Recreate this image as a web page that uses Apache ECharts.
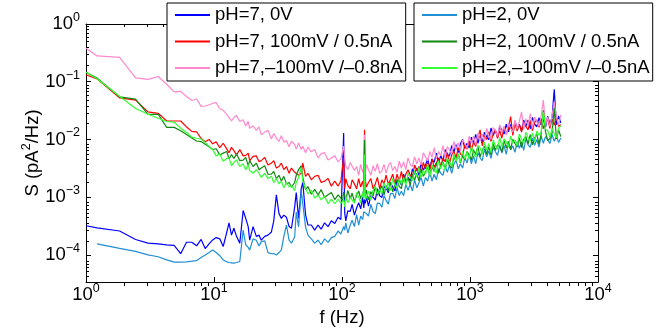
<!DOCTYPE html>
<html><head><meta charset="utf-8">
<script src="https://cdn.jsdelivr.net/npm/echarts@6/dist/echarts.min.js"></script>
<style>html,body{margin:0;padding:0;background:#fff}#c{width:664px;height:332px}</style>
</head><body><div id="c"></div>
<script>
const seriesNames = ['pH=7, 0V', 'pH=7, 100mV / 0.5nA', 'pH=7,\u2013100mV /\u20130.8nA',
                     'pH=2, 0V', 'pH=2, 100mV / 0.5nA', 'pH=2,\u2013100mV /\u20130.5nA'];
const seriesColors = ['#0000ff', '#ff0000', '#ff88cc', '#1f8fd6', '#118811', '#33ff33'];

const xMajor = [1, 10, 100, 1000, 10000];
const xMinor = [2,3,4,5,6,7,8,9,20,30,40,50,60,70,80,90,200,300,400,500,600,700,800,900,2000,3000,4000,5000,6000,7000,8000,9000];
const yMajor = [1e-4, 1e-3, 1e-2, 1e-1, 1];
const yMinor = [4e-5,5e-5,6e-5,7e-5,8e-5,9e-5,2e-4,3e-4,4e-4,5e-4,6e-4,7e-4,8e-4,9e-4,2e-3,3e-3,4e-3,5e-3,6e-3,7e-3,8e-3,9e-3,
                0.02,0.03,0.04,0.05,0.06,0.07,0.08,0.09,0.2,0.3,0.4,0.5,0.6,0.7,0.8,0.9];

const freq = [
 1, 1.22, 1.83, 2.44, 3.05, 3.66, 4.27, 4.88, 5.49, 6.1, 6.71, 7.32, 7.93, 8.54, 9.15, 9.76,
 10.4, 11.1, 11.8, 12.6, 13.1, 13.7, 14.3, 15.0, 15.9, 16.9, 17.7, 18.5, 19.0, 20.2, 21.4, 22.5, 23.4, 24.9, 26.4, 28.1,
 29.3, 30.7, 32.2, 33.6, 35.1, 36.8, 38.6, 40.3, 42.7, 43.9, 45.8, 48.0, 49.4, 51.9, 54.2, 57.6, 61.2, 65.0, 68.8, 73.1,
 77.8, 82.6, 87.8, 93.2, 98,
 101, 103, 105, 107, 111, 116, 120, 125, 130, 135,
 140, 145, 148, 150, 152, 155, 161, 168, 175, 182,
 189, 197, 205, 213, 221, 230, 239, 249, 259, 269,
 280, 291, 303, 315, 328, 341, 355, 369, 384, 399,
 415, 432, 449, 467, 486, 505, 525, 546, 568, 591,
 615, 640, 665, 692, 720, 748, 778, 810, 842, 876,
 911, 947, 985, 1025, 1066, 1108, 1153, 1199, 1247, 1297,
 1349, 1403, 1459, 1517, 1578, 1641, 1707, 1775, 1846, 1920,
 1997, 2077, 2160, 2246, 2336, 2430, 2527, 2628, 2733, 2842,
 2956, 3074, 3197, 3325, 3458, 3597, 3740, 3890, 4046, 4208,
 4376, 4551, 4733, 4923, 5120
];

const pH7_0V = [
 3.2e-4, 2.95e-4, 2.6e-4, 1.85e-4, 1.6e-4, 1.55e-4, 1.5e-4, 1.47e-4, 1.05e-4, 1.66e-4, 1.66e-4, 1.44e-4, 1.86e-4, 1.29e-4, 1.55e-4, 1.82e-4,
 2.0e-4, 1.9e-4, 1.4e-4, 2.5e-4, 3.6e-4, 2.2e-4, 2.9e-4, 2.1e-4, 1.6e-4, 5.9e-4, 4.3e-4, 3.1e-4, 1.8e-4, 3.1e-4, 2.1e-4, 2.2e-4, 1.8e-4, 2.1e-4, 2.2e-4, 2.5e-4,
 3.9e-4, 1.1e-3, 5.2e-4, 4.3e-4, 4.9e-4, 4.5e-4, 3.1e-4, 2.9e-4, 6.8e-4, 1.2e-3, 4.3e-4, 1.4e-3, 1.8e-3, 5.0e-4, 3.3e-4, 3.3e-4, 2.7e-4, 3.3e-4, 2.8e-4, 3.6e-4,
 3.1e-4, 3.9e-4, 3.5e-4, 4.5e-4, 4.1e-4,
 3.8e-4, 0.0129, 5.4e-4, 3.9e-4, 5.8e-4, 5.7e-4, 7.5e-4, 4.9e-4, 6.5e-4, 8.0e-4,
 6.3e-4, 1.0e-3, 6.5e-4, 9.2e-4, 7.8e-4, 1.03e-3, 7.0e-4, 1.06e-3, 1.0e-3, 8.9e-4,
 1.4e-3, 1.06e-3, 9.9e-4, 1.53e-3, 1.45e-3, 1.19e-3, 1.8e-3, 1.5e-3, 1.29e-3, 1.98e-3,
 1.98e-3, 1.62e-3, 2.5e-3, 1.85e-3, 2.2e-3, 1.92e-3, 3.1e-3, 2.5e-3, 3.2e-3, 2.4e-3,
 3.9e-3, 2.9e-3, 3.6e-3, 4.6e-3, 3.2e-3, 4.6e-3, 4.0e-3, 5.8e-3, 3.9e-3, 5.3e-3,
 4.2e-3, 6.7e-3, 5.5e-3, 5.2e-3, 7.8e-3, 6.0e-3, 8.1e-3, 5.9e-3, 8.5e-3, 0.0100,
 7.0e-3, 8.6e-3, 7.1e-3, 0.0110, 8.6e-3, 0.0123, 8.6e-3, 0.0116, 8.7e-3, 0.0133,
 0.0111, 9.9e-3, 0.0158, 0.0117, 0.0146, 0.0110, 0.0169, 0.0145, 0.0124, 0.0185,
 0.0136, 0.0183, 0.0130, 0.0209, 0.0156, 0.0183, 0.0142, 0.0217, 0.0167, 0.0216,
 0.0152, 0.0241, 0.0185, 0.0165, 0.0239, 0.0177, 0.0223, 0.0164, 0.0253, 0.0188,
 0.0243, 0.074, 0.0181, 0.0257, 0.0194
];

const pH7_pos = [
 0.132, 0.112, 0.0526, 0.048, 0.030, 0.0284, 0.0209, 0.0209, 0.0209, 0.0165, 0.0138, 0.0135, 0.0104, 0.0091, 0.010, 0.0084,
 0.0091, 0.0072, 0.0086, 0.0068, 0.0059, 0.0073, 0.0064, 0.0054, 0.0067, 0.0052, 0.0053, 0.0058, 0.0043, 0.0051, 0.0052, 0.0041, 0.0043, 0.0049, 0.0036, 0.0039,
 0.0043, 0.0032, 0.0034, 0.0039, 0.0030, 0.0034, 0.0026, 0.0032, 0.0027, 0.0029, 0.0024, 0.0026, 0.0039, 0.0023, 0.0026, 0.0020, 0.0023, 0.0024, 0.0018, 0.0019,
 0.0021, 0.00155, 0.0019, 0.00156, 0.0019,
 1.9e-3, 4.8e-3, 1.4e-3, 2.1e-3, 1.6e-3, 1.4e-3, 2.0e-3, 1.7e-3, 1.4e-3, 2.1e-3,
 1.5e-3, 1.9e-3, 1.4e-3, 0.0147, 2.0e-3, 1.5e-3, 1.8e-3, 2.1e-3, 1.4e-3, 1.7e-3,
 2.2e-3, 1.4e-3, 2.0e-3, 1.7e-3, 2.4e-3, 1.7e-3, 2.0e-3, 2.5e-3, 1.7e-3, 2.5e-3,
 1.9e-3, 2.8e-3, 1.9e-3, 2.5e-3, 3.0e-3, 2.4e-3, 2.2e-3, 3.6e-3, 2.9e-3, 3.4e-3,
 2.6e-3, 4.0e-3, 3.1e-3, 4.0e-3, 2.9e-3, 4.6e-3, 3.3e-3, 3.9e-3, 4.8e-3, 3.4e-3,
 4.8e-3, 4.1e-3, 5.9e-3, 3.9e-3, 5.4e-3, 6.3e-3, 4.8e-3, 7.2e-3, 5.6e-3, 5.2e-3,
 8.2e-3, 6.8e-3, 9.5e-3, 6.5e-3, 9.0e-3, 7.6e-3, 0.0108, 0.0147, 7.8e-3, 0.0116,
 0.0100, 0.0136, 9.3e-3, 0.0124, 0.0145, 0.0105, 0.0142, 0.0105, 0.0165, 0.0124,
 0.0155, 0.025, 0.0118, 0.0190, 0.0140, 0.0184, 0.0134, 0.0199, 0.0169, 0.0146,
 0.0214, 0.0142, 0.0198, 0.0218, 0.0162, 0.0233, 0.0154, 0.0200, 0.0230, 0.0155,
 0.0225, 0.0177, 0.0242, 0.0169, 0.0180
];

const pH7_neg = [
 0.38, 0.28, 0.264, 0.117, 0.11, 0.123, 0.0906, 0.0667, 0.068, 0.0554, 0.0473, 0.0503, 0.0375, 0.038, 0.040, 0.042,
 0.0438, 0.034, 0.032, 0.027, 0.024, 0.021, 0.024, 0.026, 0.0205, 0.0219, 0.0171, 0.0206, 0.0156, 0.0173, 0.0144, 0.0165, 0.0121, 0.0134, 0.0144, 0.0102,
 0.0127, 0.0105, 0.0093, 0.0116, 0.0090, 0.0096, 0.0075, 0.0094, 0.0081, 0.0068, 0.0087, 0.0067, 0.0076, 0.0059, 0.0074, 0.0061, 0.0067, 0.0048, 0.0057, 0.0059,
 0.0044, 0.0048, 0.0052, 0.0041, 0.0046,
 4.5e-3, 7.7e-3, 4.7e-3, 3.5e-3, 3.0e-3, 4.0e-3, 4.3e-3, 2.9e-3, 3.4e-3, 2.4e-3,
 3.7e-3, 2.7e-3, 3.3e-3, 0.0121, 2.5e-3, 3.7e-3, 3.0e-3, 2.4e-3, 3.5e-3, 2.8e-3,
 3.8e-3, 2.6e-3, 2.9e-3, 3.7e-3, 2.6e-3, 3.5e-3, 4.0e-3, 2.9e-3, 3.4e-3, 2.7e-3,
 4.2e-3, 3.2e-3, 4.1e-3, 3.0e-3, 4.8e-3, 3.7e-3, 3.4e-3, 5.0e-3, 3.8e-3, 4.8e-3,
 3.6e-3, 5.9e-3, 5.0e-3, 4.3e-3, 6.2e-3, 4.9e-3, 7.2e-3, 4.6e-3, 6.2e-3, 5.2e-3,
 7.8e-3, 5.0e-3, 7.5e-3, 6.5e-3, 5.7e-3, 9.3e-3, 6.7e-3, 8.8e-3, 6.2e-3, 9.8e-3,
 8.5e-3, 7.0e-3, 0.0114, 8.6e-3, 0.0114, 8.0e-3, 0.0129, 9.4e-3, 0.0123, 9.4e-3,
 0.0156, 0.0116, 0.0101, 0.0161, 0.0144, 0.0113, 0.0181, 0.0130, 0.0170, 0.0119,
 0.0195, 0.0155, 0.0134, 0.0217, 0.0151, 0.0206, 0.030, 0.0149, 0.0228, 0.0174,
 0.028, 0.0155, 0.0245, 0.0204, 0.0169, 0.0260, 0.048, 0.0180, 0.0246, 0.0168,
 0.0260, 0.045, 0.0242, 0.0177, 0.0266
];

const pH2_0V = [
 null, 1.55e-4, 1.3e-4, 1.15e-4, 1.0e-4, 9.3e-5, 8.2e-5, 7.5e-5, 7.5e-5, 7.6e-5, 7.8e-5, 8.0e-5, 9.0e-5, 1.0e-4, 1.1e-4, 1.22e-4,
 1.1e-4, 9.7e-5, 8.2e-5, 7.6e-5, 7.4e-5, 7.3e-5, 7.2e-5, 7.4e-5, 7.7e-5, 2.7e-4, 1.5e-4, 1.35e-4, 1.22e-4, 1.9e-4, 1.8e-4, 1.43e-4, 1.7e-4, 1.75e-4, 1.1e-4, 1.05e-4,
 1.06e-4, 1.0e-4, 1.1e-4, 1.22e-4, 2.07e-4, 3.3e-4, 1.8e-4, 1.6e-4, 2.07e-4, 5.5e-4, 3.07e-4, 1.3e-3, 1.22e-3, 3.07e-4, 2.2e-4, 1.9e-4, 1.6e-4, 1.8e-4, 1.5e-4, 1.9e-4,
 1.65e-4, 2.0e-4, 2.1e-4, 2.6e-4, 2.3e-4,
 2.2e-4, 3.1e-4, 2.7e-4, 3.6e-4, 2.4e-4, 3.3e-4, 4.0e-4, 3.1e-4, 5.0e-4, 3.3e-4,
 4.7e-4, 4.1e-4, 5.6e-4, 6.0e-4, 5.8e-4, 5.2e-4, 4.7e-4, 7.5e-4, 5.6e-4, 5.2e-4,
 7.9e-4, 7.8e-4, 6.7e-4, 1.07e-3, 8.8e-4, 7.6e-4, 1.15e-3, 1.17e-3, 9.5e-4, 1.46e-3,
 1.07e-3, 1.27e-3, 1.06e-3, 1.66e-3, 1.32e-3, 1.68e-3, 1.28e-3, 2.0e-3, 1.46e-3, 1.78e-3,
 2.2e-3, 1.56e-3, 2.2e-3, 1.9e-3, 2.75e-3, 1.9e-3, 2.5e-3, 2.0e-3, 3.1e-3, 2.6e-3,
 2.4e-3, 3.5e-3, 2.7e-3, 3.6e-3, 2.6e-3, 3.7e-3, 4.4e-3, 3.1e-3, 3.8e-3, 3.2e-3,
 4.9e-3, 3.9e-3, 5.5e-3, 3.8e-3, 5.2e-3, 3.8e-3, 5.9e-3, 4.8e-3, 4.3e-3, 6.8e-3,
 5.0e-3, 6.3e-3, 4.7e-3, 7.3e-3, 6.2e-3, 5.3e-3, 7.9e-3, 5.8e-3, 7.8e-3, 5.5e-3,
 8.9e-3, 6.6e-3, 7.8e-3, 6.0e-3, 9.2e-3, 7.0e-3, 9.2e-3, 6.5e-3, 0.0104, 8.1e-3,
 7.3e-3, 0.0106, 7.9e-3, 0.0100, 7.4e-3, 0.0115, 8.6e-3, 0.0112, 9.9e-3, 8.5e-3,
 0.0122, 9.3e-3, 0.0114, 8.9e-3, 0.0106
];

const pH2_pos = [
 0.1465, 0.1157, 0.0547, 0.0498, 0.0273, 0.0273, 0.0162, 0.0162, 0.0142, 0.0122, 0.0106, 0.0094, 0.0092, 0.0083, 0.0075, 0.0067,
 0.0069, 0.0054, 0.0058, 0.0062, 0.0046, 0.0055, 0.0047, 0.0056, 0.0043, 0.0044, 0.0049, 0.0035, 0.0043, 0.0034, 0.0039, 0.0030, 0.0032, 0.0035, 0.0025, 0.0025,
 0.0028, 0.0021, 0.0024, 0.0019, 0.0023, 0.0017, 0.0018, 0.0015, 0.0018, 0.0024, 0.0030, 0.0035, 0.0022, 0.00135, 0.00153, 0.00113, 0.00137, 0.0011, 0.00135, 0.00099,
 0.0011, 0.00121, 0.00091, 0.0011, 0.00096,
 8.6e-4, 1.23e-3, 1.06e-3, 8.7e-4, 1.31e-3, 9.4e-4, 1.18e-3, 8.4e-4, 1.06e-3, 1.28e-3,
 9.5e-4, 1.14e-3, 1.38e-3, 9.8e-3, 1.05e-3, 1.33e-3, 9.0e-4, 1.25e-3, 1.06e-3, 1.53e-3,
 1.07e-3, 1.3e-3, 1.58e-3, 1.1e-3, 1.59e-3, 1.28e-3, 1.83e-3, 1.24e-3, 1.68e-3, 1.98e-3,
 1.53e-3, 1.41e-3, 2.28e-3, 1.79e-3, 2.15e-3, 1.64e-3, 2.5e-3, 1.98e-3, 2.6e-3, 1.92e-3,
 3.1e-3, 2.3e-3, 2.7e-3, 3.4e-3, 2.3e-3, 3.4e-3, 2.8e-3, 4.0e-3, 2.6e-3, 3.6e-3,
 4.1e-3, 3.1e-3, 4.5e-3, 3.5e-3, 3.2e-3, 5.0e-3, 4.2e-3, 5.6e-3, 3.9e-3, 5.3e-3,
 4.4e-3, 6.2e-3, 5.4e-3, 4.4e-3, 6.6e-3, 5.5e-3, 7.5e-3, 5.0e-3, 6.5e-3, 7.7e-3,
 5.5e-3, 7.5e-3, 5.4e-3, 8.5e-3, 6.5e-3, 8.0e-3, 7.5e-3, 6.1e-3, 9.8e-3, 7.1e-3,
 9.3e-3, 6.7e-3, 0.0101, 8.5e-3, 7.4e-3, 0.0107, 7.2e-3, 0.0100, 0.0112, 8.4e-3,
 0.0121, 8.1e-3, 0.0106, 0.0124, 8.4e-3, 0.0123, 0.032, 0.0135, 9.6e-3, 0.0104,
 0.0129, 0.035, 0.0102, 0.0146, 0.0112
];

const pH2_neg = [
 0.146, 0.113, 0.056, 0.0345, 0.0273, 0.0233, 0.0205, 0.0199, 0.0157, 0.0132, 0.011, 0.0105, 0.0102, 0.0089, 0.0076, 0.0067,
 0.0052, 0.0056, 0.0042, 0.0047, 0.0048, 0.0035, 0.0040, 0.0044, 0.0034, 0.0038, 0.0030, 0.0037, 0.0029, 0.0026, 0.0030, 0.0026, 0.0022, 0.0026, 0.0021, 0.0023,
 0.0018, 0.0021, 0.0017, 0.0019, 0.00146, 0.0018, 0.0015, 0.0016, 0.0013, 0.0018, 0.0022, 0.0033, 0.0019, 0.00143, 0.00114, 0.00133, 0.00097, 0.00109, 0.0009, 0.00105,
 0.00077, 0.00093, 0.00077, 0.00093, 0.00078,
 7.5e-4, 9.0e-4, 6.8e-4, 1.04e-3, 8.0e-4, 9.9e-4, 9.3e-4, 7.9e-4, 1.2e-3, 1.0e-3,
 8.0e-4, 1.18e-3, 9.6e-4, 5.5e-3, 8.9e-4, 1.0e-3, 1.27e-3, 9.0e-4, 1.32e-3, 1.55e-3,
 1.14e-3, 1.38e-3, 1.12e-3, 1.78e-3, 1.38e-3, 1.77e-3, 1.3e-3, 2.09e-3, 1.63e-3, 1.45e-3,
 2.12e-3, 1.67e-3, 2.18e-3, 1.61e-3, 2.61e-3, 2.2e-3, 1.93e-3, 2.88e-3, 2.25e-3, 3.3e-3,
 2.16e-3, 2.94e-3, 2.5e-3, 3.75e-3, 2.34e-3, 3.6e-3, 3.0e-3, 2.6e-3, 4.3e-3, 3.1e-3,
 4.0e-3, 2.9e-3, 4.7e-3, 4.1e-3, 3.4e-3, 5.6e-3, 4.2e-3, 5.6e-3, 4.0e-3, 6.3e-3,
 4.6e-3, 6.0e-3, 4.6e-3, 7.7e-3, 5.7e-3, 5.0e-3, 7.9e-3, 7.1e-3, 5.6e-3, 9.0e-3,
 6.5e-3, 8.5e-3, 5.9e-3, 9.8e-3, 7.8e-3, 6.7e-3, 0.0109, 7.5e-3, 0.0102, 9.1e-3,
 7.4e-3, 0.0114, 8.6e-3, 9.8e-3, 7.8e-3, 0.0124, 0.0103, 8.6e-3, 0.0134, 0.0109,
 9.4e-3, 0.0130, 9.0e-3, 0.0140, 0.0119, 0.0133, 0.030, 0.0150, 0.0142, 0.0108,
 0.0157, 0.0124, 0.0108, 0.0156, 0.0173
];

const seriesValues = [pH7_0V, pH7_pos, pH7_neg, pH2_0V, pH2_pos, pH2_neg];

const FONT = '"Liberation Sans", Arial, Helvetica, sans-serif';
function supLabel(v) {
  const e = Math.round(Math.log10(v));
  return '{b|10}{s|' + (e < 0 ? '\u2212' + (-e) : String(e)) + '}';
}
const labelRich = {
  b: { fontSize: 18.5, fontFamily: FONT, color: '#000', lineHeight: 26, verticalAlign: 'middle' },
  s: { fontSize: 12.5, fontFamily: FONT, color: '#000', lineHeight: 4, verticalAlign: 'top' }
};
const lineCol = '#000';

function xAxisDef(grid, pos, major) {
  return {
    gridIndex: grid, type: 'log', logBase: 10, min: 1, max: 10000, position: pos,
    axisLine: { show: major, lineStyle: { color: lineCol, width: 1 } },
    axisTick: { show: true, inside: true, length: major ? 5 : 3, customValues: major ? xMajor : xMinor, lineStyle: { color: lineCol, width: 1 } },
    axisLabel: (major && pos === 'bottom') ? { show: true, customValues: xMajor, formatter: supLabel, rich: labelRich, margin: 0 } : { show: false },
    minorTick: { show: false }, splitLine: { show: false }, splitArea: { show: false }
  };
}
function yAxisDef(grid, pos, major) {
  return {
    gridIndex: grid, type: 'log', logBase: 10, min: 3.4e-5, max: 1, position: pos,
    axisLine: { show: major, lineStyle: { color: lineCol, width: 1 } },
    axisTick: { show: true, inside: true, length: major ? 5 : 3, customValues: major ? yMajor : yMinor, lineStyle: { color: lineCol, width: 1 } },
    axisLabel: (major && pos === 'left') ? { show: true, customValues: yMajor, formatter: supLabel, rich: labelRich, margin: 6 } : { show: false },
    minorTick: { show: false }, splitLine: { show: false }, splitArea: { show: false }
  };
}

const xAxes = [xAxisDef(0, 'bottom', true), xAxisDef(0, 'top', true), xAxisDef(1, 'bottom', false), xAxisDef(1, 'top', false)];
const yAxes = [yAxisDef(0, 'left', true), yAxisDef(0, 'right', true), yAxisDef(1, 'left', false), yAxisDef(1, 'right', false)];
Object.assign(xAxes[0], {
  name: 'f (Hz)', nameLocation: 'middle', nameGap: 26, nameMoveOverlap: false,
  nameTextStyle: { fontSize: 18.5, fontFamily: FONT, color: '#000' }
});
Object.assign(yAxes[0], {
  name: 'S (pA{s|2}/Hz)', nameLocation: 'middle', nameGap: 40, nameMoveOverlap: false,
  nameTextStyle: { fontSize: 18.5, fontFamily: FONT, color: '#000', lineHeight: 26,
    rich: { s: { fontSize: 12.5, fontFamily: FONT, color: '#000', lineHeight: 4, verticalAlign: 'top' } } }
});

const gridRect = { left: 86, top: 24, right: 66, bottom: 46 };
const legendBase = {
  orient: 'vertical', top: 3, itemWidth: 35, itemHeight: 2, itemGap: 6.5, icon: 'rect',
  padding: [2, 3, 3, 8], borderColor: '#000', borderWidth: 1, backgroundColor: '#fff', selectedMode: false,
  textStyle: { fontSize: 18.5, fontFamily: FONT, color: '#000', lineHeight: 20 }
};

const chart = echarts.init(document.getElementById('c'), null, { renderer: 'canvas' });
chart.setOption({
  animation: false,
  backgroundColor: '#fff',
  grid: [Object.assign({}, gridRect), Object.assign({}, gridRect)],
  xAxis: xAxes,
  yAxis: yAxes,
  legend: [
    Object.assign({}, legendBase, { left: 167, data: seriesNames.slice(0, 3) }),
    Object.assign({}, legendBase, { left: 414, data: seriesNames.slice(3, 6) })
  ],
  series: seriesNames.map((name, i) => ({
    name, type: 'line', xAxisIndex: 0, yAxisIndex: 0,
    showSymbol: false, symbol: 'none', clip: true,
    color: seriesColors[i],
    lineStyle: { width: 1.2, color: seriesColors[i] },
    data: freq.map((f, k) => [f, seriesValues[i][k]])
  }))
});
</script>
</body></html>
